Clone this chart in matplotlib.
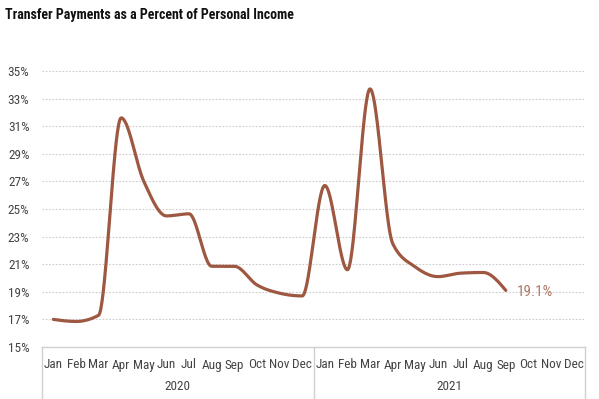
import numpy as np
import matplotlib
matplotlib.use("Agg")
import matplotlib.pyplot as plt
import matplotlib.transforms as mtransforms

plt.rcParams['font.family'] = ['Roboto Condensed', 'DejaVu Sans']

title = "Transfer Payments as a Percent of Personal Income"
months = ["Jan", "Feb", "Mar", "Apr", "May", "Jun", "Jul", "Aug", "Sep", "Oct", "Nov", "Dec"]
years = ["2020", "2021"]
values = [17.0, 16.85, 17.3, 31.6, 27.0, 24.5, 24.65, 20.85, 20.85, 19.5, 18.9, 18.7,
          26.7, 20.6, 33.7, 22.5, 20.8, 20.1, 20.35, 20.4, 19.1]
yticks = [15, 17, 19, 21, 23, 25, 27, 29, 31, 33, 35]
last_label = "19.1%"

line_color = "#9E5741"
grid_color = "#cccccc"
frame_color = "#d0d0d0"
text_color = "#444444"


def monotone_x(x, y, n=40):
    """d3 curveMonotoneX style smoothing for drawing."""
    x = np.asarray(x, float)
    y = np.asarray(y, float)
    m = len(x)
    h = np.diff(x)
    s = np.diff(y) / h
    t = np.zeros(m)
    for i in range(1, m - 1):
        s0, s1 = s[i - 1], s[i]
        p = (s0 * h[i] + s1 * h[i - 1]) / (h[i - 1] + h[i])
        t[i] = (np.sign(s0) + np.sign(s1)) * min(abs(s0), abs(s1), 0.5 * abs(p))
    t[0] = (3 * s[0] - t[1]) / 2
    t[-1] = (3 * s[-1] - t[-2]) / 2
    xs, ys = [], []
    for i in range(m - 1):
        dx = h[i] / 3
        P0 = np.array([x[i], y[i]])
        P1 = np.array([x[i] + dx, y[i] + dx * t[i]])
        P2 = np.array([x[i + 1] - dx, y[i + 1] - dx * t[i + 1]])
        P3 = np.array([x[i + 1], y[i + 1]])
        u = np.linspace(0, 1, n, endpoint=(i == m - 2))[:, None]
        B = ((1 - u) ** 3) * P0 + 3 * ((1 - u) ** 2) * u * P1 + 3 * (1 - u) * u ** 2 * P2 + u ** 3 * P3
        xs.append(B[:, 0])
        ys.append(B[:, 1])
    return np.concatenate(xs), np.concatenate(ys)


fig = plt.figure(figsize=(5.99, 3.99), dpi=100)
ax = fig.add_axes([42 / 599, 1 - 347 / 399, (585 - 42) / 599, (347 - 71) / 399])

n_cat = len(months) * len(years)
x = np.arange(len(values))
sx, sy = monotone_x(x, values)
ax.plot(sx, sy, color=line_color, lw=2.3, solid_capstyle='round', zorder=3)
ax.text(x[-1] + 0.5, values[-1] - 0.15, last_label, color="#B07A66", fontsize=11,
        va='center', ha='left')

ax.set_xlim(-0.5, n_cat - 0.5)
ax.set_ylim(15, 35)
ax.set_yticks(yticks)
ax.set_yticklabels([f"{t}%" for t in yticks], color=text_color, fontsize=9.5)
ax.tick_params(axis='y', length=0, pad=9)
ax.set_xticks([])
for s in ax.spines.values():
    s.set_visible(False)
for t in yticks[1:]:
    ax.axhline(t, color=grid_color, lw=0.8, ls=(0, (1.5, 1.5)), zorder=1)

# category axis
trans = mtransforms.blended_transform_factory(ax.transData, ax.transAxes)
depth = 52 / 276
ax.plot([-0.5, n_cat - 0.5], [0, 0], transform=trans, color=frame_color, lw=1, clip_on=False)
for xv in [-0.5 + 12 * k for k in range(len(years) + 1)]:
    ax.plot([xv, xv], [0, -depth], transform=trans, color=frame_color, lw=1, clip_on=False)
for k, yr in enumerate(years):
    for j, m in enumerate(months):
        ax.text(12 * k + j, -18 / 276, m, transform=trans, ha='center', va='center',
                fontsize=9.5, color=text_color)
    ax.text(12 * k + 5.5, -40 / 276, yr, transform=trans, ha='center', va='center',
            fontsize=9.5, color=text_color)

fig.text(5 / 599, 1 - 15 / 399, title, fontsize=10, fontweight='bold', color='#111111',
         ha='left', va='center')

fig.savefig("out.png", dpi=100, facecolor='white')
